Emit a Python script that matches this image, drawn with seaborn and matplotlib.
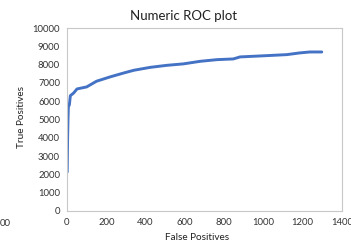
import pandas as pd
import matplotlib
matplotlib.use("Agg")
import matplotlib.pyplot as plt
import seaborn as sns

# ROC curve points
false_pos = [1, 3, 5, 7, 12, 17, 34, 51, 100, 150, 220, 290, 340, 424, 508,
             593, 678, 763, 847, 881, 1017, 1119, 1186, 1237, 1297]
true_pos = [2130, 3900, 5000, 5700, 5800, 6300, 6450, 6670, 6780, 7090, 7330,
            7545, 7690, 7850, 7960, 8040, 8180, 8270, 8310, 8420, 8490, 8545,
            8640, 8690, 8690]
x_ticks = [0, 200, 400, 600, 800, 1000, 1200, 1400]
y_ticks = [0, 1000, 2000, 3000, 4000, 5000, 6000, 7000, 8000, 9000, 10000]

df = pd.DataFrame({"fp": false_pos, "tp": true_pos})

sns.set_style("white")
plt.rcParams["font.family"] = ["Lato", "DejaVu Sans"]

fig = plt.figure(figsize=(3.51, 2.42), dpi=100)
ax = fig.add_axes([67 / 351, 1 - 211 / 242, 275 / 351, 183 / 242])

sns.lineplot(data=df, x="fp", y="tp", sort=False, color="#4472C4",
             linewidth=2.1, ax=ax)

ax.set_xlim(0, 1400)
ax.set_ylim(0, 10000)
ax.set_xticks(x_ticks)
ax.set_yticks(y_ticks)
ax.tick_params(labelsize=6.8, labelcolor="#333333", length=3, width=0.6,
               direction="out", pad=2, color="#b0b0b0")
for s in ax.spines.values():
    s.set_color("#c8c8c8")
    s.set_linewidth(0.8)
ax.set_xlabel("")
ax.set_ylabel("")

fig.text(184 / 351, 1 - 16 / 242, "Numeric ROC plot", ha="center", va="center",
         fontsize=9.5, color="#222222")
fig.text(197 / 351, 1 - 238 / 242, "False Positives", ha="center", va="center",
         fontsize=7.2, color="#222222")
fig.text(22 / 351, 1 - 117 / 242, "True Positives", ha="center", va="center",
         rotation=90, fontsize=7.2, color="#222222")
fig.text(5 / 351, 1 - 223 / 242, "00", ha="center", va="center",
         fontsize=6.8, color="#333333")

fig.savefig("out.png", dpi=100)
